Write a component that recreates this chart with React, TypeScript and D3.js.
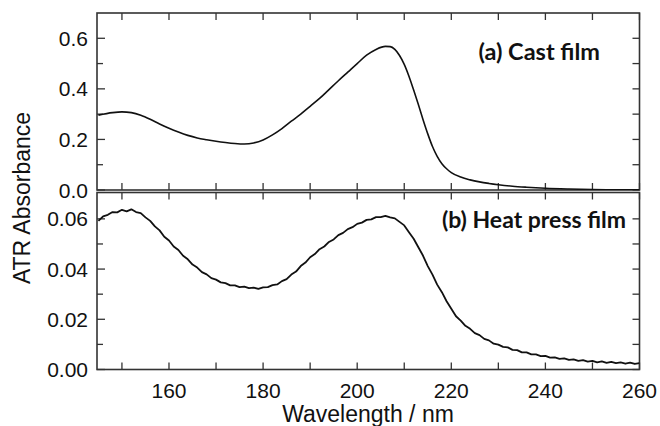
import React from "react";
import * as d3 from "d3";

// ---- data ----
const castWavelength = [145,148,150,152,154,156,158,160,162,164,166,168,170,172,174,176,178,180,182,184,186,188,190,192,194,196,198,200,202,204,206,207,208,209,210,211,212,213,214,215,216,217,218,219,220,222,224,226,228,230,233,236,240,245,250,255,260];
const castAbsorbance = [0.296,0.306,0.309,0.306,0.296,0.280,0.261,0.244,0.229,0.216,0.206,0.199,0.193,0.188,0.184,0.182,0.186,0.198,0.218,0.243,0.272,0.300,0.331,0.362,0.397,0.432,0.466,0.500,0.533,0.556,0.568,0.567,0.556,0.532,0.497,0.450,0.395,0.338,0.278,0.222,0.172,0.133,0.104,0.084,0.069,0.051,0.040,0.032,0.026,0.021,0.015,0.011,0.007,0.004,0.002,0.001,0.001];

const heatWavelength = [145,146,147,148,149,150,151,152,153,154,155,156,157,158,159,160,161,162,163,164,165,166,167,168,169,170,171,172,173,174,175,176,177,178,179,180,181,182,183,184,185,186,187,188,189,190,191,192,193,194,195,196,197,198,199,200,201,202,203,204,205,206,207,208,209,210,211,212,213,214,215,216,217,218,219,220,221,222,223,224,225,226,227,228,229,230,231,232,233,234,235,236,237,238,239,240,241,242,243,244,245,246,247,248,249,250,251,252,253,254,255,256,257,258,259,260];
const heatAbsorbance = [0.0592,0.0610,0.0616,0.0627,0.0626,0.0636,0.0630,0.0638,0.0627,0.0623,0.0606,0.0592,0.0570,0.0554,0.0529,0.0514,0.0490,0.0476,0.0453,0.0439,0.0418,0.0406,0.0388,0.0379,0.0364,0.0358,0.0347,0.0344,0.0335,0.0335,0.0328,0.0330,0.0324,0.0326,0.0321,0.0327,0.0328,0.0336,0.0339,0.0352,0.0360,0.0378,0.0390,0.0412,0.0426,0.0447,0.0460,0.0479,0.0490,0.0508,0.0518,0.0535,0.0544,0.0559,0.0567,0.0580,0.0585,0.0596,0.0598,0.0607,0.0607,0.0612,0.0606,0.0602,0.0588,0.0574,0.0547,0.0521,0.0487,0.0453,0.0412,0.0378,0.0338,0.0308,0.0272,0.0242,0.0212,0.0195,0.0174,0.0162,0.0145,0.0137,0.0122,0.0116,0.0103,0.0099,0.0090,0.0088,0.0078,0.0077,0.0068,0.0068,0.0060,0.0060,0.0053,0.0054,0.0047,0.0048,0.0042,0.0044,0.0038,0.0040,0.0034,0.0037,0.0031,0.0034,0.0028,0.0032,0.0026,0.0030,0.0025,0.0028,0.0023,0.0027,0.0022,0.0025];

const xTicks = [160, 180, 200, 220, 240, 260];
const xMinorTicks = [150, 160, 170, 180, 190, 200, 210, 220, 230, 240, 250, 260];
const topYTicks = [0.0, 0.2, 0.4, 0.6];
const topYMinor = [0.1, 0.3, 0.5];
const botYTicks = [0.0, 0.02, 0.04, 0.06];
const botYMinor = [0.01, 0.03, 0.05];

const labelA = "(a) Cast film";
const labelB = "(b) Heat press film";
const yTitle = "ATR Absorbance";
const xTitle = "Wavelength / nm";

export default function App() {
  const left = 97, right = 639.5;
  const x = d3.scaleLinear().domain([144.7, 260]).range([left, right]);
  const yTop = d3.scaleLinear().domain([0, 0.7]).range([190, 13]);
  const yBot = d3.scaleLinear().domain([0, 0.0705]).range([369.5, 192.5]);

  const lineTop = d3.line<number>().x((_, i) => x(castWavelength[i])).y((d) => yTop(d)).curve(d3.curveMonotoneX);
  const lineBot = d3.line<number>().x((_, i) => x(heatWavelength[i])).y((d) => yBot(d));

  const frame = "#333";
  const tickLen = 7;
  const font = "'Liberation Sans', Arial, sans-serif";

  const panel = (
    y: d3.ScaleLinear<number, number>,
    major: number[],
    minor: number[],
    fmt: (v: number) => string,
    key: string
  ) => {
    const [y0, y1] = y.range();
    return (
      <g key={key}>
        <defs>
          <clipPath id={"clip-" + key}>
            <rect x={left} y={y1} width={right - left} height={y0 - y1} />
          </clipPath>
        </defs>
        {xMinorTicks.map((t) => (
          <g key={"xt" + t}>
            <line x1={x(t)} x2={x(t)} y1={y0} y2={y0 - tickLen} stroke={frame} strokeWidth={1.3} />
            <line x1={x(t)} x2={x(t)} y1={y1} y2={y1 + tickLen} stroke={frame} strokeWidth={1.3} />
          </g>
        ))}
        {major.concat(minor).map((t) => (
          <g key={"yt" + t}>
            <line x1={left} x2={left + (major.includes(t) ? 8 : 6)} y1={y(t)} y2={y(t)} stroke={frame} strokeWidth={1.3} />
            <line x1={right} x2={right - 7} y1={y(t)} y2={y(t)} stroke={frame} strokeWidth={1.3} />
          </g>
        ))}
        {major.map((t) => (
          <text key={"yl" + t} x={88} y={y(t)} dy="0.36em" textAnchor="end" fontFamily={font} fontSize={21} fill="#111">
            {fmt(t)}
          </text>
        ))}
        <rect x={left} y={y1} width={right - left} height={y0 - y1} fill="none" stroke={frame} strokeWidth={1.6} />
      </g>
    );
  };

  return (
    <svg width={660} height={426} style={{ position: "absolute", left: 0, top: 0, background: "#fff" }}>
      <rect width={660} height={426} fill="#fff" />
      {panel(yTop, topYTicks, topYMinor, d3.format(".1f"), "top")}
      {panel(yBot, botYTicks, botYMinor, d3.format(".2f"), "bot")}
      <path d={lineTop(castAbsorbance) || ""} fill="none" stroke="#111" strokeWidth={1.6} clipPath="url(#clip-top)" />
      <path d={lineBot(heatAbsorbance) || ""} fill="none" stroke="#111" strokeWidth={1.8} strokeLinejoin="round" clipPath="url(#clip-bot)" />
      {xTicks.map((t) => (
        <text key={"xl" + t} x={x(t)} y={398} textAnchor="middle" fontFamily={font} fontSize={21} fill="#111">
          {t}
        </text>
      ))}
      <text x={368} y={422} textAnchor="middle" fontFamily={font} fontSize={23} fill="#111">
        {xTitle}
      </text>
      <text transform="translate(30,198) rotate(-90)" textAnchor="middle" fontFamily={font} fontSize={23} fill="#111">
        {yTitle}
      </text>
      <text x={600} y={60} textAnchor="end" fontFamily="Lato, 'Open Sans', sans-serif" fontWeight="bold" fontSize={23.5} fill="#111">
        {labelA}
      </text>
      <text x={626} y={228} textAnchor="end" fontFamily="Lato, 'Open Sans', sans-serif" fontWeight="bold" fontSize={23} fill="#111">
        {labelB}
      </text>
    </svg>
  );
}
